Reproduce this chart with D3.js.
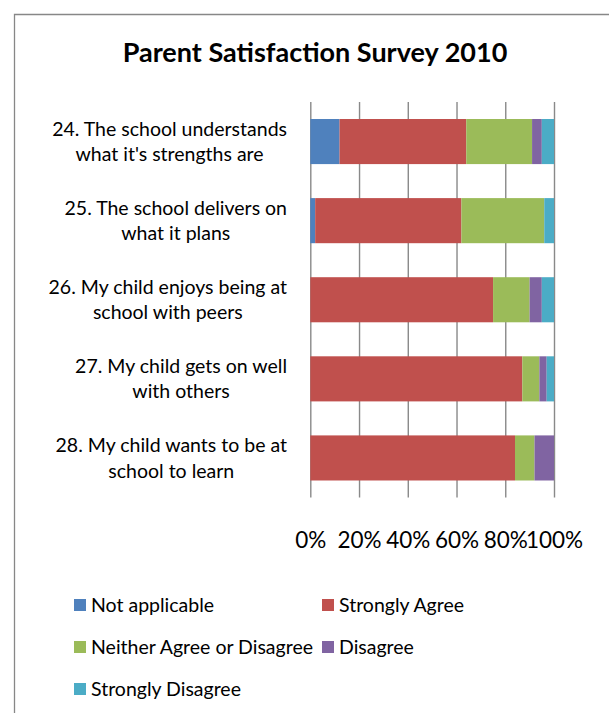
<!DOCTYPE html>
<html>
<head>
<meta charset="utf-8">
<script src="https://cdn.jsdelivr.net/npm/d3@7"></script>
<style>
  body { margin: 0; background: #fff; }
  svg { display: block; }
  text { font-family: Lato, "Noto Sans", sans-serif; fill: #000; }
</style>
</head>
<body>
<svg id="chart" width="609" height="713"></svg>
<script>
// Survey questions (each split into the two lines it is printed on)
const questions = [
  ["24. The school understands", "what it's strengths are"],
  ["25. The school delivers on", "what it plans"],
  ["26. My child enjoys being at", "school with peers"],
  ["27. My child gets on well", "with others"],
  ["28. My child wants to be at", "school to learn"]
];

// Response categories, in stacking order
const responses = ["Not applicable", "Strongly Agree", "Neither Agree or Disagree", "Disagree", "Strongly Disagree"];

// Share of answers per question (percent)
const notApplicable      = [12,  2,  0,  0,  0];
const stronglyAgree      = [52, 60, 75, 87, 84];
const neitherAgreeOrDis  = [27, 34, 15,  7,  8];
const disagree           = [ 4,  0,  5,  3,  8];
const stronglyDisagree   = [ 5,  4,  5,  3,  0];

// Value axis ticks
const tickValues = [0, 0.2, 0.4, 0.6, 0.8, 1];

const responseColors = ["#4F81BD", "#C0504D", "#9BBB59", "#8064A2", "#4BACC6"];

const seriesValues = [notApplicable, stronglyAgree, neitherAgreeOrDis, disagree, stronglyDisagree];

// One row per question, keyed by response
const rows = questions.map((q, i) => {
  const row = { key: q.join(" ") };
  responses.forEach((r, j) => { row[r] = seriesValues[j][i] / 100; });
  return row;
});

const svg = d3.select("#chart");

// Chart frame
svg.append("path")
  .attr("d", "M14.5,720 V14.5 H620")
  .attr("fill", "none")
  .attr("stroke", "#878787")
  .attr("stroke-width", 1.3);

// Title
svg.append("text")
  .attr("x", 315)
  .attr("y", 62)
  .attr("text-anchor", "middle")
  .style("font-weight", "bold")
  .style("font-size", "27px")
  .text("Parent Satisfaction Survey 2010");

const plot = { left: 310.3, right: 554, top: 102, bottom: 497.5 };

const x = d3.scaleLinear().domain([0, 1]).range([plot.left, plot.right]);
const y = d3.scaleBand()
  .domain(rows.map(d => d.key))
  .range([plot.top, plot.bottom])
  .paddingInner(0.43)
  .paddingOuter(0.215);

// Gridlines and percent labels
const xAxis = svg.append("g")
  .attr("transform", `translate(0,${plot.bottom})`)
  .call(d3.axisBottom(x)
    .tickValues(tickValues)
    .tickFormat(d3.format(".0%"))
    .tickSize(-(plot.bottom - plot.top)));
xAxis.select(".domain").remove();
xAxis.selectAll(".tick line")
  .attr("stroke", "#898989")
  .attr("stroke-width", 1.4);
xAxis.selectAll(".tick text")
  .attr("y", 50.5)
  .attr("dy", null)
  .style("font-size", "22.5px")
  .style("font-family", "Lato, 'Noto Sans', sans-serif")
  .attr("fill", "#000");

// Stacked bars
const stacked = d3.stack().keys(responses)(rows);
svg.append("g")
  .selectAll("g")
  .data(stacked)
  .join("g")
  .attr("fill", (d, i) => responseColors[i])
  .selectAll("rect")
  .data(d => d)
  .join("rect")
  .attr("x", d => x(d[0]))
  .attr("width", d => x(d[1]) - x(d[0]))
  .attr("y", d => y(d.data.key))
  .attr("height", y.bandwidth());

// Question labels: each block right-aligned to the axis, lines centred in the block
const labelRight = 287;
const lineGap = 25.5;
const labels = svg.append("g").style("font-size", "19.5px");
questions.forEach((lines, i) => {
  const cy = y(rows[i].key) + y.bandwidth() / 2;
  const g = labels.append("g");
  const texts = lines.map((line, k) => g.append("text")
    .attr("y", cy + (k - (lines.length - 1) / 2) * lineGap)
    .attr("dy", "0.35em")
    .attr("text-anchor", "middle")
    .text(line));
  const w = d3.max(texts, t => t.node().getComputedTextLength());
  texts.forEach(t => t.attr("x", labelRight - w / 2));
});

// Legend, two columns
const legendCols = [74, 322];
const legendRows = [605, 647, 689];
const legend = svg.append("g").style("font-size", "19.5px");
responses.forEach((r, i) => {
  const lx = legendCols[i % 2];
  const ly = legendRows[Math.floor(i / 2)];
  legend.append("rect")
    .attr("x", lx)
    .attr("y", ly - 6)
    .attr("width", 12)
    .attr("height", 12)
    .attr("fill", responseColors[i]);
  legend.append("text")
    .attr("x", lx + 17)
    .attr("y", ly)
    .attr("dy", "0.35em")
    .text(r);
});
</script>
</body>
</html>
